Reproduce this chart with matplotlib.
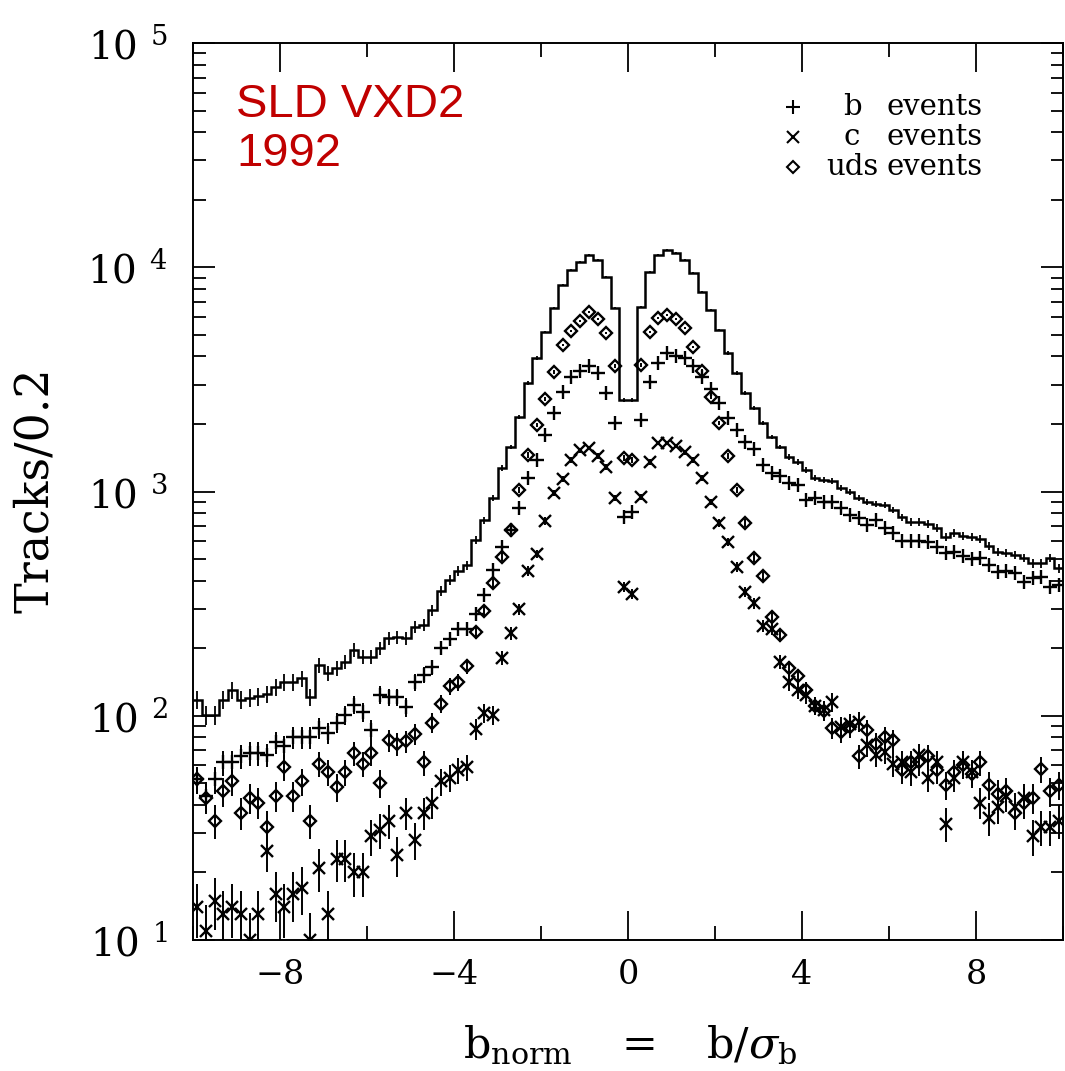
import matplotlib
matplotlib.use("Agg")
import matplotlib.pyplot as plt
import numpy as np
from matplotlib.ticker import FixedLocator, LogLocator, FuncFormatter, NullFormatter

plt.rcParams['font.family'] = ['DejaVu Serif']
plt.rcParams['mathtext.fontset'] = 'dejavuserif'

# b_norm bins of width 0.2 from -10 to 10
bin_edges = np.linspace(-10, 10, 101)

# all tracks (solid histogram)
all_tracks = [118, 101, 101, 118, 130, 118, 120, 122, 125, 134,
              141, 141, 147, 121, 168, 155, 163, 174, 196, 183,
              183, 200, 222, 224, 222, 249, 254, 296, 360, 403,
              442, 470, 608, 746, 935, 1273, 1579, 2149, 3047, 3938,
              5143, 6580, 8333, 9720, 10550, 11340, 10770, 9050, 6580, 2559,
              2559, 6650, 9524, 11340, 11940, 11570, 10770, 9427, 7757, 6447,
              5251, 4146, 3377, 2749, 2357, 2021, 1750, 1579, 1425, 1353,
              1247, 1149, 1125, 1114, 1036, 995, 935, 898, 880, 871,
              827, 770, 731, 731, 716, 688, 627, 653, 633, 627,
              614, 571, 537, 532, 521, 505, 480, 480, 505, 456]

# b events (+)
b_tracks = [52, 44, 52, 62, 62, 66, 68, 68, 67, 76,
            73, 80, 80, 80, 88, 84, 93, 101, 112, 104,
            86, 124, 121, 121, 109, 141, 152, 165, 200, 220,
            244, 244, 284, 346, 447, 565, 673, 844, 1149, 1382,
            1786, 2239, 2777, 3240, 3446, 3627, 3377, 2749, 2021, 770,
            810, 2084, 3078, 3741, 4146, 4020, 3938, 3627, 3240, 2865,
            2481, 2127, 1880, 1663, 1547, 1313, 1209, 1173, 1091, 1069,
            916, 935, 898, 898, 844, 786, 762, 709, 746, 688,
            653, 602, 602, 602, 595, 565, 532, 537, 516, 500,
            505, 470, 438, 442, 433, 395, 411, 416, 375, 383]

# c events (x)
c_tracks = [14, 11, 15, 13, 14, 13, 10, 13, 25, 16,
            14, 16, 17, 10, 21, 13, 23, 23, 20, 20,
            29, 31, 34, 24, 37, 28, 37, 41, 51, 53,
            57, 59, 87, 103, 101, 181, 234, 299, 442, 526,
            739, 985, 1137, 1382, 1531, 1563, 1440, 1286, 935, 375,
            349, 945, 1353, 1646, 1646, 1596, 1500, 1382, 1149, 898,
            724, 595, 461, 356, 318, 251, 244, 174, 141, 130,
            124, 111, 106, 115, 89, 92, 94, 74, 67, 69,
            61, 62, 56, 67, 53, 62, 33, 53, 62, 56,
            41, 35, 39, 44, 39, 43, 29, 32, 32, 34]

# uds events (diamonds)
uds_tracks = [52, 43, 34, 46, 51, 37, 43, 41, 32, 44,
              59, 44, 51, 34, 61, 56, 48, 56, 68, 61,
              68, 50, 78, 75, 77, 83, 62, 93, 113, 136,
              141, 167, 236, 293, 391, 511, 673, 1016, 1455, 1980,
              2585, 3412, 4501, 5196, 5759, 6317, 5877, 5090, 3627, 1411,
              1382, 3665, 5143, 5938, 6124, 5877, 5359, 4410, 3446, 2639,
              2021, 1440, 1016, 724, 505, 420, 276, 229, 163, 150,
              130, 111, 105, 88, 85, 89, 66, 86, 75, 80,
              78, 57, 62, 62, 66, 57, 49, 56, 60, 55,
              62, 49, 45, 46, 37, 41, 43, 58, 46, 49]

x_major = [-8, -4, 0, 4, 8]
x_minor = [-10, -6, -2, 2, 6, 10]

fig = plt.figure(figsize=(10.65, 10.71), dpi=100)
ax = fig.add_axes([193 / 1065, 1 - 940 / 1071, 870 / 1065, 897 / 1071])

centers = (bin_edges[:-1] + bin_edges[1:]) / 2
all_arr = np.array(all_tracks, dtype=float)

# total histogram
ax.stairs(all_arr, bin_edges, color='black', lw=1.8, baseline=None)
ax.errorbar(centers, all_arr, yerr=np.sqrt(all_arr), fmt='none',
            ecolor='black', elinewidth=1.3)

# flavour samples with Poisson errors
styles = [(b_tracks, '+', 10), (c_tracks, 'x', 9), (uds_tracks, 'D', 6.5)]
for vals, mk, ms in styles:
    v = np.array(vals, dtype=float)
    ax.errorbar(centers, v, yerr=np.sqrt(v), fmt=mk, ms=ms, mew=1.7,
                mfc='none', mec='black', ecolor='black', elinewidth=1.4)

ax.set_yscale('log')
ax.set_xlim(-10, 10)
ax.set_ylim(10, 1e5)

ax.xaxis.set_major_locator(FixedLocator(x_major))
ax.xaxis.set_minor_locator(FixedLocator(x_minor))
ax.yaxis.set_major_locator(LogLocator(base=10))
ax.yaxis.set_minor_locator(LogLocator(base=10, subs=np.arange(2, 10)))
ax.yaxis.set_minor_formatter(NullFormatter())
ax.yaxis.set_major_formatter(FuncFormatter(lambda y, p: r'$10^{\,\,\,%d}$' % round(np.log10(y))))

ax.tick_params(which='both', direction='in', top=True, right=True, width=1.3)
ax.tick_params(axis='x', which='major', length=21, labelsize=24, pad=14)
ax.tick_params(axis='x', which='minor', length=10)
ax.tick_params(axis='y', which='major', length=16, labelsize=28, pad=18)
ax.tick_params(axis='y', which='minor', length=9)
for s in ax.spines.values():
    s.set_linewidth(1.4)

fig.text(35 / 1065, 1 - 490 / 1071, 'Tracks/0.2', rotation=90, ha='center', va='center', fontsize=33)
fig.text(630 / 1065, 1 - 1045 / 1071,
         r'$\mathrm{b_{norm}}\ \ \ =\ \ \ \mathrm{b}/\sigma_{\mathrm{b}}$',
         ha='center', va='center', fontsize=31)

# experiment label
ax.text(0.05, 0.955, 'SLD VXD2\n1992', transform=ax.transAxes, ha='left', va='top',
        fontsize=34, color='#c00000', family='Liberation Sans', linespacing=1.15)

# key, top right
key_rows = [('+', 'b', 10, 0.9287), ('x', 'c', 9, 0.8952), ('D', 'uds', 6.5, 0.8618)]
for mk, name, ms, yk in key_rows:
    ax.plot([0.690], [yk], marker=mk, ms=ms, mew=1.5, mfc='none', mec='black',
            transform=ax.transAxes, ls='none')
    ax.text((852 - 193) / 870, yk, name, transform=ax.transAxes, ha='center', va='center', fontsize=21)
    ax.text((886 - 193) / 870, yk, 'events', transform=ax.transAxes, ha='left', va='center', fontsize=21)

fig.savefig('out.png', dpi=100)
